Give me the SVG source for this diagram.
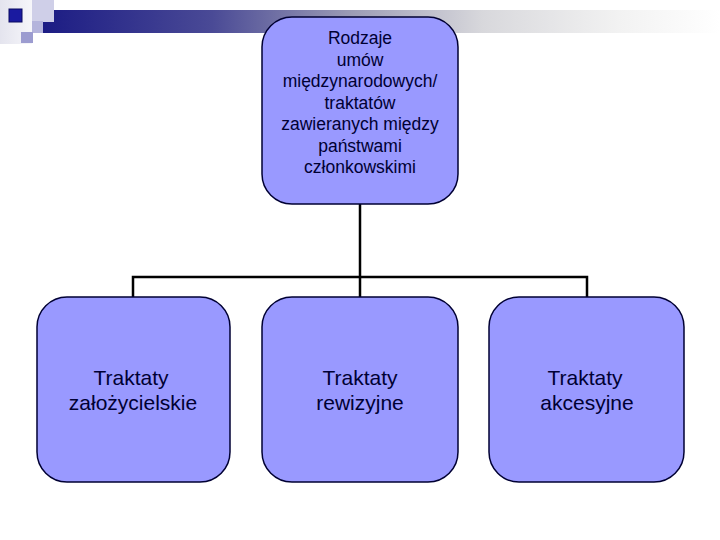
<svg xmlns="http://www.w3.org/2000/svg" width="720" height="540" viewBox="0 0 720 540">
<defs>
<linearGradient id="bar" x1="0" y1="0" x2="1" y2="0">
<stop offset="0" stop-color="#1c1c84"/>
<stop offset="0.25" stop-color="#4a4a96"/>
<stop offset="0.45" stop-color="#9a9ab4"/>
<stop offset="0.65" stop-color="#d8d8dc"/>
<stop offset="0.85" stop-color="#f2f2f2"/>
<stop offset="1" stop-color="#ffffff"/>
</linearGradient>
<linearGradient id="lft" x1="0" y1="0" x2="1" y2="0">
<stop offset="0" stop-color="#e4e4ee"/>
<stop offset="1" stop-color="#f6f6fa"/>
</linearGradient>
<style>
.node{fill:#9999ff;stroke:#000033;stroke-width:1.5}
.t{font-family:"Liberation Sans",Arial,sans-serif;fill:#000033;text-anchor:middle}
.top{font-size:17.5px}
.bot{font-size:21px}
.conn{stroke:#000;stroke-width:2.5;fill:none}
</style>
</defs>
<rect width="720" height="540" fill="#ffffff"/>
<g id="decoration">
<rect x="0" y="0" width="32" height="44" fill="url(#lft)"/>
<rect x="43" y="10" width="677" height="23" fill="url(#bar)"/>
<rect x="32" y="0" width="22" height="22" fill="#cfcfe8"/>
<rect x="32" y="21" width="11" height="12" fill="#b4b4dc"/>
<rect x="9" y="9" width="13" height="13" fill="#1a1aa0" stroke="#0a0a60" stroke-width="1"/>
<rect x="21" y="32" width="12" height="11" fill="#9c9cd0"/>
</g>
<g id="connectors">
<path class="conn" d="M360 204 V297"/>
<path class="conn" d="M133 297 V277 H587 V297"/>
</g>
<g id="node-root">
<rect class="node" x="262" y="17" width="196" height="187" rx="30" ry="30"/>
<text class="t top" x="360" y="44">Rodzaje</text>
<text class="t top" x="360" y="65.5">umów</text>
<text class="t top" x="360" y="87">międzynarodowych/</text>
<text class="t top" x="360" y="108.5">traktatów</text>
<text class="t top" x="360" y="130">zawieranych między</text>
<text class="t top" x="360" y="151.5">państwami</text>
<text class="t top" x="360" y="173">członkowskimi</text>
</g>
<g id="node-zalozycielskie">
<rect class="node" x="37" y="297" width="193" height="185" rx="30" ry="30"/>
<text class="t bot" x="131" y="385">Traktaty</text>
<text class="t bot" x="133" y="410">założycielskie</text>
</g>
<g id="node-rewizyjne">
<rect class="node" x="262" y="297" width="196" height="185" rx="30" ry="30"/>
<text class="t bot" x="360" y="385">Traktaty</text>
<text class="t bot" x="360" y="410">rewizyjne</text>
</g>
<g id="node-akcesyjne">
<rect class="node" x="489" y="297" width="195" height="185" rx="30" ry="30"/>
<text class="t bot" x="585" y="385">Traktaty</text>
<text class="t bot" x="587" y="410">akcesyjne</text>
</g>
</svg>
